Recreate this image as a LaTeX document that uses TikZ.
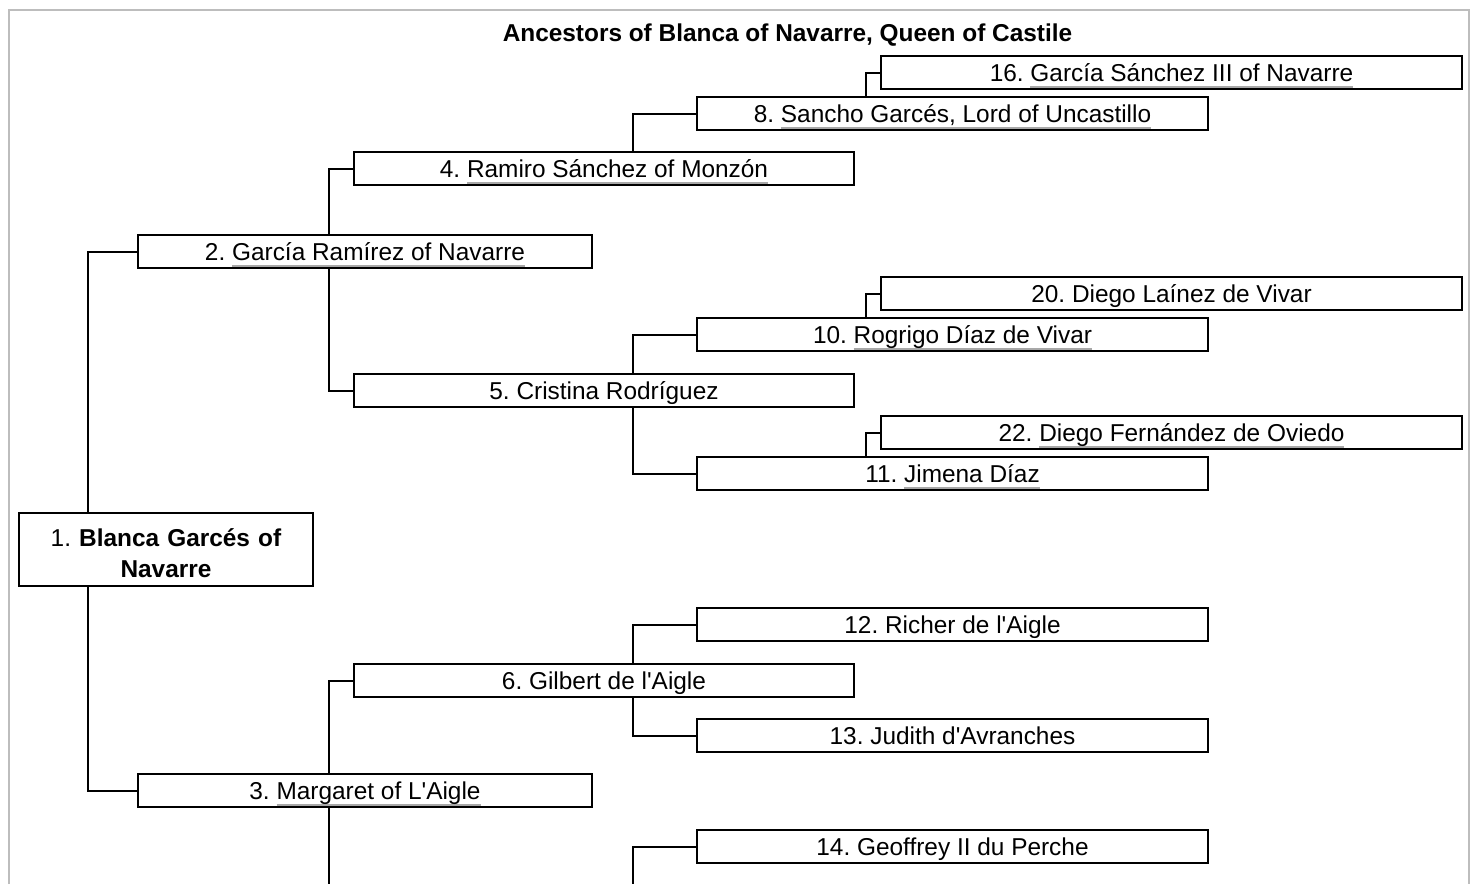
\documentclass[tikz,border=0pt]{standalone}
\usepackage{fontspec}
\setmainfont{Liberation Sans}[Ligatures=TeXOff]
\frenchspacing

\definecolor{ulgray}{HTML}{A8A8A8}
\definecolor{framegray}{HTML}{BDBDBD}
\newsavebox\lnkbox
\newcommand\lnk[1]{\sbox\lnkbox{#1}\rlap{\textcolor{ulgray}{\rule[-6pt]{\wd\lnkbox}{1.8pt}}}\usebox\lnkbox}

\tikzset{
    person/.style={draw, line width=1.5pt, inner sep=0pt, text height=25.5pt, text depth=7.5pt, minimum height=33pt},
    gentwo/.style={person, minimum width=454pt},
    genthree/.style={person, minimum width=500pt},
    genfour/.style={person, minimum width=511pt},
    genfive/.style={person, minimum width=581pt},
    edge/.style={line width=2pt},
}

\begin{document}
\begin{tikzpicture}[x=1pt, y=-1pt, font=\fontsize{24.4}{31}\selectfont]
        \useasboundingbox (0, 0) rectangle (1473, 884);
        \draw [framegray, line width=2pt] (9, 884) -- (9, 10) -- (1469, 10) -- (1469, 884);
        \node (title) [anchor=base] at (787.5, 41.5) {\textbf{Ancestors of Blanca of Navarre, Queen of Castile}};

        \node (p1) [draw, line width=1.5pt, inner sep=0pt, text width=294pt, align=center, text height=33pt, text depth=40pt] at (166, 549.5) {1. \textbf{Blanca Garcés of}\\\textbf{Navarre}};
        \node (p2) [gentwo] at (365, 251.5) {2. \lnk{García Ramírez of Navarre}};
        \node (p3) [gentwo] at (365, 790.5) {3. \lnk{Margaret of L'Aigle}};
        \node (p4) [genthree] at (604, 168.5) {4. \lnk{Ramiro Sánchez of Monzón}};
        \node (p5) [genthree] at (604, 390.5) {5. Cristina Rodríguez};
        \node (p6) [genthree] at (604, 680.5) {6. Gilbert de l'Aigle};
        \node (p8) [genfour] at (952.5, 113.5) {8. \lnk{Sancho Garcés, Lord of Uncastillo}};
        \node (p10) [genfour] at (952.5, 334.5) {10. \lnk{Rogrigo Díaz de Vivar}};
        \node (p11) [genfour] at (952.5, 473.5) {11. \lnk{Jimena Díaz}};
        \node (p12) [genfour] at (952.5, 624.5) {12. Richer de l'Aigle};
        \node (p13) [genfour] at (952.5, 735.5) {13. Judith d'Avranches};
        \node (p14) [genfour] at (952.5, 846.5) {14. Geoffrey II du Perche};
        \node (p16) [genfive] at (1171.5, 72.5) {16. \lnk{García Sánchez III of Navarre}};
        \node (p20) [genfive] at (1171.5, 293.5) {20. Diego Laínez de Vivar};
        \node (p22) [genfive] at (1171.5, 432.5) {22. \lnk{Diego Fernández de Oviedo}};
        \coordinate (down7) at (329, 884);
        \coordinate (p7) at (633, 884);

        \draw [edge] (p2.west) -| (88, 0 |- p1.north);
        \draw [edge] (p3.west) -| (88, 0 |- p1.south);
        \draw [edge] (p4.west) -| (329, 0 |- p2.north);
        \draw [edge] (p5.west) -| (329, 0 |- p2.south);
        \draw [edge] (p6.west) -| (329, 0 |- p3.north);
        \draw [edge] (down7 |- p3.south) -- (down7);
        \draw [edge] (p8.west) -| (633, 0 |- p4.north);
        \draw [edge] (p10.west) -| (633, 0 |- p5.north);
        \draw [edge] (p11.west) -| (633, 0 |- p5.south);
        \draw [edge] (p12.west) -| (633, 0 |- p6.north);
        \draw [edge] (p13.west) -| (633, 0 |- p6.south);
        \draw [edge] (p14.west) -| (p7);
        \draw [edge] (p16.west) -| (866, 0 |- p8.north);
        \draw [edge] (p20.west) -| (866, 0 |- p10.north);
        \draw [edge] (p22.west) -| (866, 0 |- p11.north);
\end{tikzpicture}
\end{document}
